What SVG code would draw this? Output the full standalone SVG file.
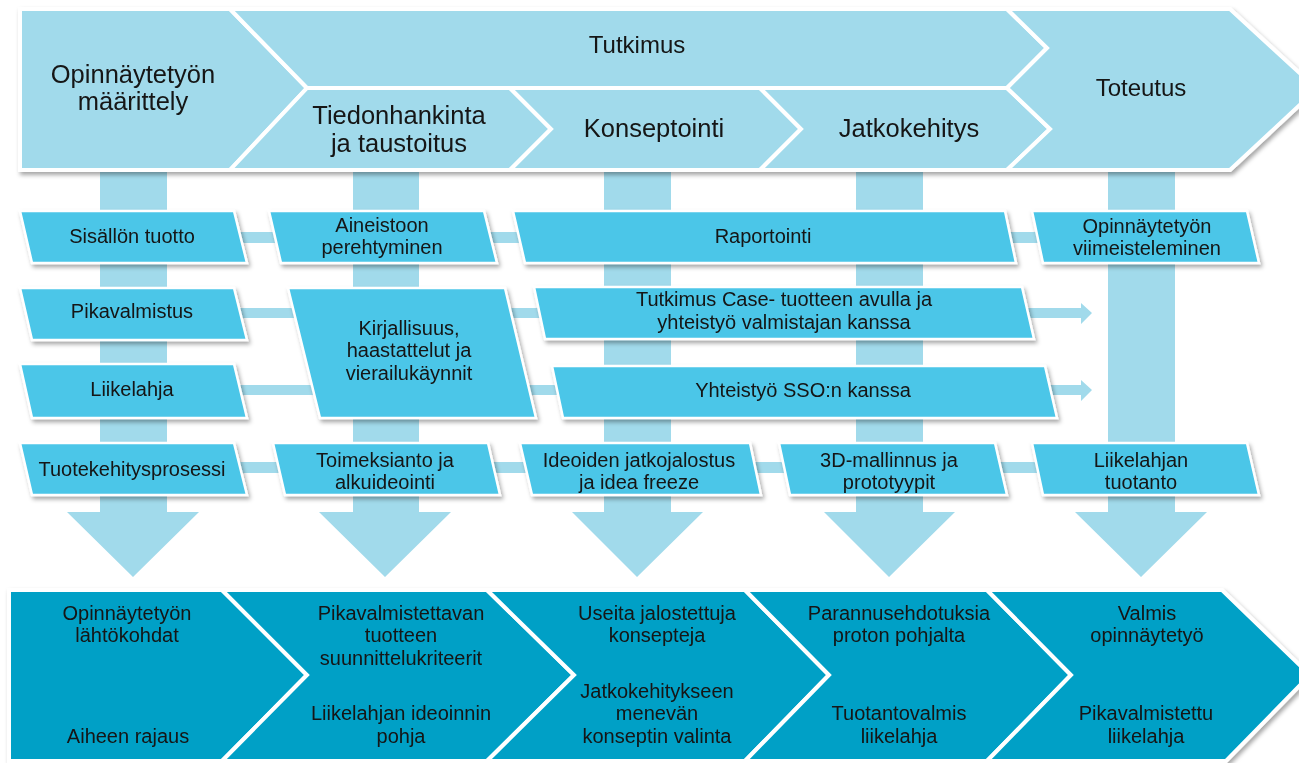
<svg xmlns="http://www.w3.org/2000/svg" width="1299" height="763" viewBox="0 0 1299 763">
<defs>
<style>
.ban{fill:#A1DAEB;stroke:#fff;stroke-width:4;stroke-linejoin:miter}
.box{fill:#4BC6E8;stroke:#fff;stroke-width:2.5;stroke-linejoin:miter}
.bot{fill:#00A0C6;stroke:#fff;stroke-width:4;stroke-linejoin:miter}
.con{fill:#A1DAEB}
text{font-family:"Liberation Sans",Arial,sans-serif;fill:#141414;text-anchor:middle}
.t1{font-size:24px}
.t1b{font-size:25.5px}
.t2{font-size:20px}
.t3{font-size:20px}
</style>
<filter id="sh" x="-5%" y="-10%" width="112%" height="130%">
<feDropShadow dx="2" dy="3" stdDeviation="2" flood-color="#000" flood-opacity="0.35"/>
</filter>
</defs>
<rect width="1299" height="763" fill="#fff"/>

<g id="connectors">
<path class="con" d="M100,170H167V512H199L133,577L67,512H100Z"/>
<path class="con" d="M353,170H419V512H451L385,577L319,512H353Z"/>
<path class="con" d="M604,170H671V512H703L637,577L572,512H604Z"/>
<path class="con" d="M856,170H923V512H955L889,577L824,512H856Z"/>
<path class="con" d="M1108,170H1175V512H1207L1141,577L1075,512H1108Z"/>
<rect class="con" x="200" y="232" width="880" height="11"/>
<rect class="con" x="200" y="462" width="880" height="11"/>
<path class="con" d="M200,308H1081V303L1092,313L1081,324V318H200Z"/>
<path class="con" d="M200,385H1081V380L1092,390L1081,401V395H200Z"/>
</g>

<g id="banner" filter="url(#sh)">
<g id="n-maarittely">
<polygon class="ban" points="20,9 230,9 307,88 230,170 20,170"/>
<text class="t1b" x="133" y="83">Opinnäytetyön</text>
<text class="t1b" x="133" y="110">määrittely</text>
</g>
<g id="n-tutkimus">
<polygon class="ban" points="230,9 1007,9 1047,48 1007,88 307,88"/>
<text class="t1" x="637" y="53">Tutkimus</text>
</g>
<g id="n-tiedonhankinta">
<polygon class="ban" points="307,88 510,88 551,129 510,170 230,170"/>
<text class="t1b" x="399" y="124">Tiedonhankinta</text>
<text class="t1b" x="399" y="152">ja taustoitus</text>
</g>
<g id="n-konseptointi">
<polygon class="ban" points="510,88 760,88 801,129 760,170 510,170 551,129"/>
<text class="t1b" x="654" y="137">Konseptointi</text>
</g>
<g id="n-jatkokehitys">
<polygon class="ban" points="760,88 1007,88 1050,129 1007,170 760,170 801,129"/>
<text class="t1b" x="909" y="137">Jatkokehitys</text>
</g>
<g id="n-toteutus">
<polygon class="ban" points="1007,9 1230,9 1317,89 1230,170 1007,170 1050,129 1007,88 1047,48"/>
<text class="t1" x="1141" y="96">Toteutus</text>
</g>
</g>

<g id="boxes" filter="url(#sh)">
<g id="n-sisallon"><polygon class="box" points="20,211 234,211 247,263 32,263"/><text class="t2" x="132" y="243">Sisällön tuotto</text></g>
<g id="n-aineistoon"><polygon class="box" points="269,211 484,211 497,263 281,263"/><text class="t2" x="382" y="232">Aineistoon</text><text class="t2" x="382" y="254">perehtyminen</text></g>
<g id="n-raportointi"><polygon class="box" points="513,211 1005,211 1016,263 525,263"/><text class="t2" x="763" y="243">Raportointi</text></g>
<g id="n-viimeisteleminen"><polygon class="box" points="1032,211 1247,211 1259,263 1043,263"/><text class="t2" x="1147" y="233">Opinnäytetyön</text><text class="t2" x="1147" y="255">viimeisteleminen</text></g>

<g id="n-pikavalmistus"><polygon class="box" points="20,288 234,288 247,340 32,340"/><text class="t2" x="132" y="318">Pikavalmistus</text></g>
<g id="n-kirjallisuus"><polygon class="box" points="288,288 505,288 536,418 320,418"/><text class="t2" x="409" y="335">Kirjallisuus,</text><text class="t2" x="409" y="357">haastattelut ja</text><text class="t2" x="409" y="380">vierailukäynnit</text></g>
<g id="n-tutkimuscase"><polygon class="box" points="534,287 1022,287 1034,339 545,339"/><text class="t2" x="784" y="306">Tutkimus Case- tuotteen avulla ja</text><text class="t2" x="784" y="329">yhteistyö valmistajan kanssa</text></g>

<g id="n-liikelahja"><polygon class="box" points="20,364 234,364 247,418 32,418"/><text class="t2" x="132" y="396">Liikelahja</text></g>
<g id="n-sso"><polygon class="box" points="552,366 1045,366 1057,418 563,418"/><text class="t2" x="803" y="397">Yhteistyö SSO:n kanssa</text></g>

<g id="n-tuotekehitys"><polygon class="box" points="20,443 234,443 247,495 32,495"/><text class="t2" x="132" y="476">Tuotekehitysprosessi</text></g>
<g id="n-toimeksianto"><polygon class="box" points="273,443 488,443 500,495 285,495"/><text class="t2" x="385" y="467">Toimeksianto ja</text><text class="t2" x="385" y="489">alkuideointi</text></g>
<g id="n-ideoiden"><polygon class="box" points="520,443 750,443 761,495 532,495"/><text class="t2" x="639" y="467">Ideoiden jatkojalostus</text><text class="t2" x="639" y="489">ja idea freeze</text></g>
<g id="n-3d"><polygon class="box" points="779,443 995,443 1007,495 790,495"/><text class="t2" x="889" y="467">3D-mallinnus ja</text><text class="t2" x="889" y="489">prototyypit</text></g>
<g id="n-tuotanto"><polygon class="box" points="1032,443 1247,443 1259,495 1043,495"/><text class="t2" x="1141" y="467">Liikelahjan</text><text class="t2" x="1141" y="489">tuotanto</text></g>
</g>

<g id="bottom" filter="url(#sh)">
<g id="b1"><polygon class="bot" points="9,590 222,590 307,675 222,761 9,761"/>
<text class="t3" x="127" y="620">Opinnäytetyön</text><text class="t3" x="127" y="642">lähtökohdat</text>
<text class="t3" x="128" y="743">Aiheen rajaus</text></g>
<g id="b2"><polygon class="bot" points="222,590 487,590 574,675 487,761 222,761 307,675"/>
<text class="t3" x="401" y="620">Pikavalmistettavan</text><text class="t3" x="401" y="642">tuotteen</text><text class="t3" x="401" y="665">suunnittelukriteerit</text>
<text class="t3" x="401" y="720">Liikelahjan ideoinnin</text><text class="t3" x="401" y="743">pohja</text></g>
<g id="b3"><polygon class="bot" points="487,590 745,590 829,675 745,761 487,761 574,675"/>
<text class="t3" x="657" y="620">Useita jalostettuja</text><text class="t3" x="657" y="642">konsepteja</text>
<text class="t3" x="657" y="698">Jatkokehitykseen</text><text class="t3" x="657" y="720">menevän</text><text class="t3" x="657" y="743">konseptin valinta</text></g>
<g id="b4"><polygon class="bot" points="745,590 987,590 1071,675 987,761 745,761 829,675"/>
<text class="t3" x="899" y="620">Parannusehdotuksia</text><text class="t3" x="899" y="642">proton pohjalta</text>
<text class="t3" x="899" y="720">Tuotantovalmis</text><text class="t3" x="899" y="743">liikelahja</text></g>
<g id="b5"><polygon class="bot" points="987,590 1222,590 1310,675 1226,761 987,761 1071,675"/>
<text class="t3" x="1147" y="620">Valmis</text><text class="t3" x="1147" y="642">opinnäytetyö</text>
<text class="t3" x="1146" y="720">Pikavalmistettu</text><text class="t3" x="1146" y="743">liikelahja</text></g>
</g>
</svg>
